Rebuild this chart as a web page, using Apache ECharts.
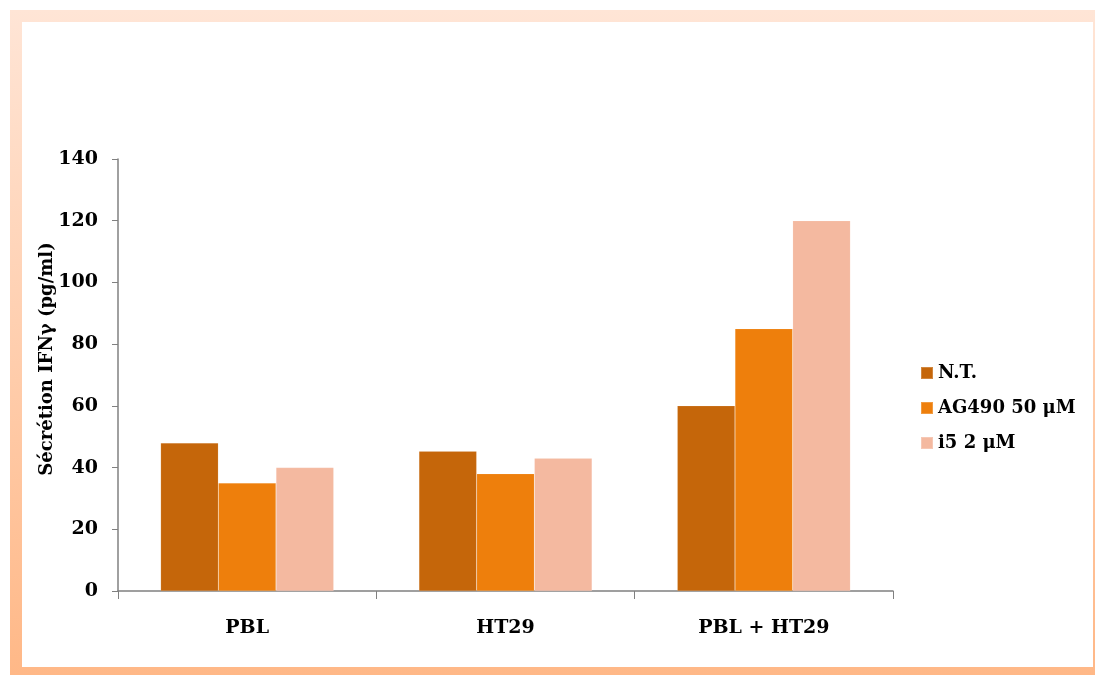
<!DOCTYPE html>
<html>
<head>
<meta charset="utf-8">
<script src="https://cdn.jsdelivr.net/npm/echarts@6/dist/echarts.min.js"></script>
<style>
  html, body { margin: 0; padding: 0; width: 1095px; height: 675px; background: #ffffff; overflow: hidden; }
  #frame {
    position: absolute; left: 10px; top: 10px;
    width: 1071px; height: 645px;
    border-style: solid; border-color: transparent;
    border-width: 12px 2px 8px 12px;
    background: linear-gradient(#fff, #fff) padding-box,
                linear-gradient(to bottom, #FFE5D6, #FFB887) border-box;
  }
  #chart { position: absolute; left: 0; top: 0; width: 1095px; height: 675px; }
</style>
</head>
<body>
<div id="frame"></div>
<div id="chart"></div>
<script>
// IFN-gamma secretion per culture condition
const categories = ['PBL', 'HT29', 'PBL + HT29'];
const seriesNames = ['N.T.', 'AG490 50 μM', 'i5 2 μM'];
const valuesNT = [48, 45.3, 60];
const valuesAG490 = [35, 38, 85];
const valuesI5 = [40, 43, 120];
const yTicks = [0, 20, 40, 60, 80, 100, 120, 140];

const colors = ['#C5660A', '#EE7F0C', '#F4B9A0'];
const font = 'DejaVu Serif';

const chart = echarts.init(document.getElementById('chart'), null, { renderer: 'canvas' });

const barStyle = c => ({ color: c, borderColor: 'rgba(255,255,255,0.22)', borderWidth: 0.5 });

chart.setOption({
  animation: false,
  backgroundColor: 'transparent',
  color: colors,
  grid: { left: 118, right: 202, top: 159, bottom: 84 },
  legend: {
    orient: 'vertical',
    left: 915, top: 359,
    icon: 'rect',
    itemWidth: 12, itemHeight: 12, itemGap: 17,
    textStyle: { fontFamily: font, fontWeight: 'bold', fontSize: 18, color: '#000' },
    data: seriesNames
  },
  xAxis: {
    type: 'category',
    data: categories,
    axisLine: { lineStyle: { color: '#808080', width: 1.5 } },
    axisTick: { show: true, length: 8, lineStyle: { color: '#808080' } },
    axisLabel: { margin: 28, fontFamily: font, fontWeight: 'bold', fontSize: 19, color: '#000' }
  },
  yAxis: {
    type: 'value',
    min: yTicks[0], max: yTicks[yTicks.length - 1], interval: yTicks[1] - yTicks[0],
    name: 'Sécrétion IFNγ (pg/ml)',
    nameLocation: 'middle', nameRotate: 90, nameGap: 62, nameMoveOverlap: false,
    nameTextStyle: { fontFamily: font, fontWeight: 'bold', fontSize: 18, color: '#000', padding: [0, 0, 0, 32] },
    axisLine: { show: true, lineStyle: { color: '#808080', width: 1.5 } },
    axisTick: { show: true, length: 6, lineStyle: { color: '#808080' } },
    splitLine: { show: false },
    axisLabel: { margin: 20, fontFamily: font, fontWeight: 'bold', fontSize: 19, color: '#000' }
  },
  series: [
    { name: seriesNames[0], type: 'bar', data: valuesNT, barGap: '0%', barCategoryGap: '33%', itemStyle: barStyle(colors[0]) },
    { name: seriesNames[1], type: 'bar', data: valuesAG490, barGap: '0%', barCategoryGap: '33%', itemStyle: barStyle(colors[1]) },
    { name: seriesNames[2], type: 'bar', data: valuesI5, barGap: '0%', barCategoryGap: '33%', itemStyle: barStyle(colors[2]) }
  ]
});
</script>
</body>
</html>
